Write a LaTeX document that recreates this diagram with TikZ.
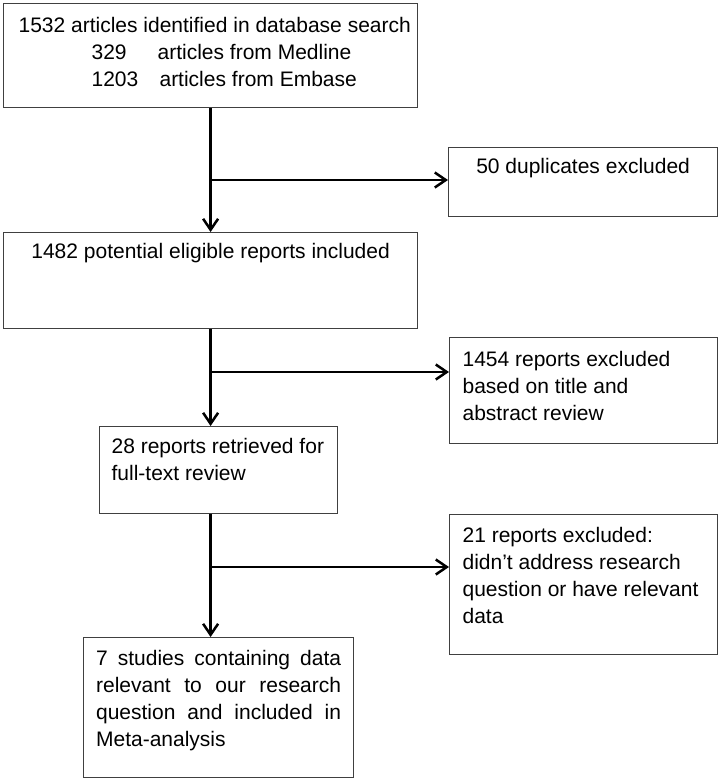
\documentclass[tikz,border=0pt]{standalone}
\usepackage{fontspec}
\setmainfont{Liberation Sans}
\usetikzlibrary{arrows.meta}
\newcommand{\boxtxt}[5]{\parbox[c][#2][t]{#1}{#4\rule{0pt}{#3}#5}}
\begin{document}
\begin{tikzpicture}[x=1pt,y=-1pt,
  every node/.style={font=\fontsize{21}{27}\selectfont},
  box/.style={draw=black!75, line width=1.2pt, inner ysep=0pt, anchor=north west},
  arr/.style={draw=black, line width=2.5pt, -{Straight Barb[length=11pt,width=15pt]}}]
\useasboundingbox (0,0) rectangle (720,781);
\fill[white] (0,0) rectangle (720,781);

\node[box, inner xsep=0pt] (b1) at (3,3)
  {\boxtxt{414pt}{104pt}{29pt}{\raggedright}{\hspace*{15pt}1532 articles identified in database search\\
   \hspace*{88pt}\makebox[66pt][l]{329}articles from Medline\\
   \hspace*{88pt}\makebox[68pt][l]{1203}articles from Embase}};

\node[box, inner xsep=0pt] (d1) at (448,147)
  {\boxtxt{269pt}{69pt}{26pt}{\centering}{50 duplicates excluded}};

\node[box, inner xsep=0pt] (b2) at (3,232)
  {\boxtxt{414pt}{96pt}{26pt}{\centering}{1482 potential eligible reports included}};

\node[box, inner xsep=13pt] (d2) at (449,337)
  {\boxtxt{242pt}{106pt}{29pt}{\raggedright}{1454 reports excluded\\ based on title and\\ abstract review}};

\node[box, inner xsep=12pt] (b3) at (99,426)
  {\boxtxt{214pt}{87pt}{27pt}{\raggedright}{28 reports retrieved for\\ full-text review}};

\node[box, inner xsep=13pt] (d3) at (449,514)
  {\boxtxt{242pt}{140pt}{28pt}{\raggedright}{21 reports excluded:\\ didn’t address research\\ question or have relevant\\ data}};

\node[box, inner xsep=12.5pt] (b4) at (83,637)
  {\boxtxt{245pt}{140pt}{28pt}{}{7 studies containing data\linebreak relevant to our research\linebreak question and included in\linebreak Meta-analysis}};

\coordinate (j1) at (210,180);
\coordinate (j2) at (210,372);
\coordinate (j3) at (210,567);

\draw[arr] (b1.south) -- (b2.north);
\draw[arr] (b2.south) -- (b2.south |- b3.north);
\draw[arr] (b2.south |- b3.south) -- (b2.south |- b4.north);
\draw[arr] (j1) -- (j1 -| d1.west);
\draw[arr] (j2) -- (j2 -| d2.west);
\draw[arr] (j3) -- (j3 -| d3.west);
\end{tikzpicture}
\end{document}
